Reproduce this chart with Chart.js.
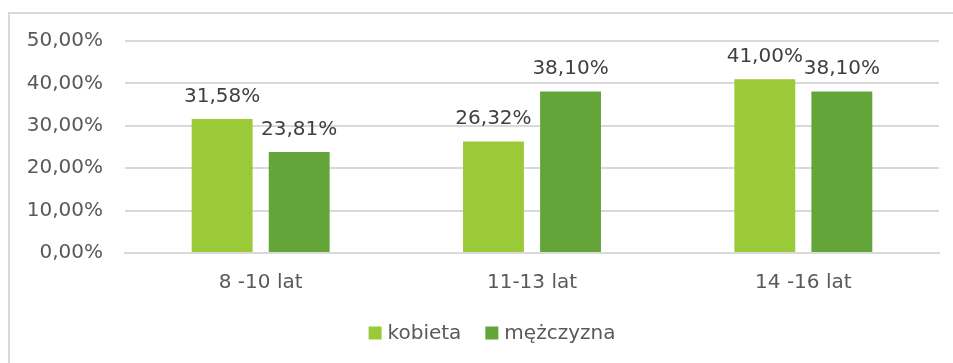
<!DOCTYPE html>
<html>
<head>
<meta charset="utf-8">
<script src="https://cdn.jsdelivr.net/npm/chart.js@4/dist/chart.umd.min.js"></script>
<style>
  html, body { margin: 0; padding: 0; background: #fff; }
  #wrap { width: 953px; height: 363px; position: relative; }
</style>
</head>
<body>
<div id="wrap"><canvas id="wiek-canvas"></canvas></div>
<script>
// grupy wiekowe i odsetki (w %)
const grupyWiekowe = ['8 -10 lat', '11-13 lat', '14 -16 lat'];
const kobiety = [31.58, 26.32, 41.0];
const mezczyzni = [23.81, 38.1, 38.1];
const osY = [0, 10, 20, 30, 40, 50];

const FONT = 'DejaVu Sans';

// format 31,58%
function procent(v) {
  return v.toFixed(2).replace('.', ',') + '%';
}

// ramka wokół wykresu
const ramka = {
  id: 'ramka',
  beforeDraw(chart) {
    const ctx = chart.ctx;
    ctx.save();
    ctx.strokeStyle = '#d9d9d9';
    ctx.lineWidth = 2;
    ctx.strokeRect(9, 13, chart.width + 20, chart.height + 20);
    ctx.restore();
  },
};

// etykiety wartości nad słupkami
const etykiety = {
  id: 'etykiety',
  afterDatasetsDraw(chart) {
    const ctx = chart.ctx;
    ctx.save();
    ctx.font = '20px "' + FONT + '"';
    ctx.fillStyle = '#404040';
    ctx.textAlign = 'center';
    ctx.textBaseline = 'alphabetic';
    chart.data.datasets.forEach((ds, i) => {
      chart.getDatasetMeta(i).data.forEach((bar, j) => {
        ctx.fillText(procent(ds.data[j]), bar.x, bar.y - 17);
      });
    });
    ctx.restore();
  },
};

// legenda pod wykresem: kwadrat + podpis, cała grupa wyśrodkowana
const legenda = {
  id: 'legenda',
  afterDraw(chart) {
    const ctx = chart.ctx;
    const srodek = 492;
    const yLeg = 333;
    const box = 13;
    const odstep = 6;
    const miedzy = 24;
    ctx.save();
    ctx.font = '20px "' + FONT + '"';
    ctx.textBaseline = 'middle';
    const ds = chart.data.datasets;
    const szer = ds.map((d) => box + odstep + ctx.measureText(d.label).width);
    let x = srodek - (szer.reduce((a, b) => a + b, 0) + miedzy * (ds.length - 1)) / 2;
    ds.forEach((d, i) => {
      ctx.fillStyle = d.backgroundColor;
      ctx.fillRect(x, yLeg - box / 2, box, box);
      ctx.fillStyle = '#595959';
      ctx.fillText(d.label, x + box + odstep, yLeg + 1);
      x += szer[i] + miedzy;
    });
    ctx.restore();
  },
};

const canvasWiek = document.getElementById('wiek-canvas').getContext('2d');

const config = {
  type: 'bar',
  data: {
    labels: grupyWiekowe,
    datasets: [
      {
        label: 'kobieta',
        data: kobiety,
        backgroundColor: '#9aca38',
        borderWidth: 0,
      },
      {
        label: 'mężczyzna',
        data: mezczyzni,
        backgroundColor: '#63a539',
        borderWidth: 0,
      },
    ],
  },
  plugins: [ramka, etykiety, legenda],
  options: {
    responsive: true,
    maintainAspectRatio: false,
    animation: false,
    layout: { padding: { left: 8, top: 41, right: 14, bottom: 0 } },
    datasets: {
      bar: { categoryPercentage: 0.568, barPercentage: 0.79 },
    },
    scales: {
      x: {
        afterFit(scale) {
          scale.height = 110;
        },
        grid: { display: false, drawTicks: false },
        border: { color: '#d9d9d9', width: 2 },
        ticks: { color: '#595959', font: { family: FONT, size: 20 }, padding: 18 },
      },
      y: {
        min: 0,
        max: 50,
        afterFit(scale) {
          scale.width = 117;
        },
        afterBuildTicks(scale) {
          scale.ticks = osY.map((v) => ({ value: v }));
        },
        grid: { color: '#d9d9d9', lineWidth: 2, drawTicks: false },
        border: { display: false },
        ticks: {
          color: '#595959',
          font: { family: FONT, size: 20 },
          padding: 22,
          callback: (v) => procent(v),
        },
      },
    },
    plugins: {
      legend: { display: false },
      tooltip: { enabled: false },
    },
  },
};

const wiekChart = new Chart(canvasWiek, config);
</script>
</body>
</html>
